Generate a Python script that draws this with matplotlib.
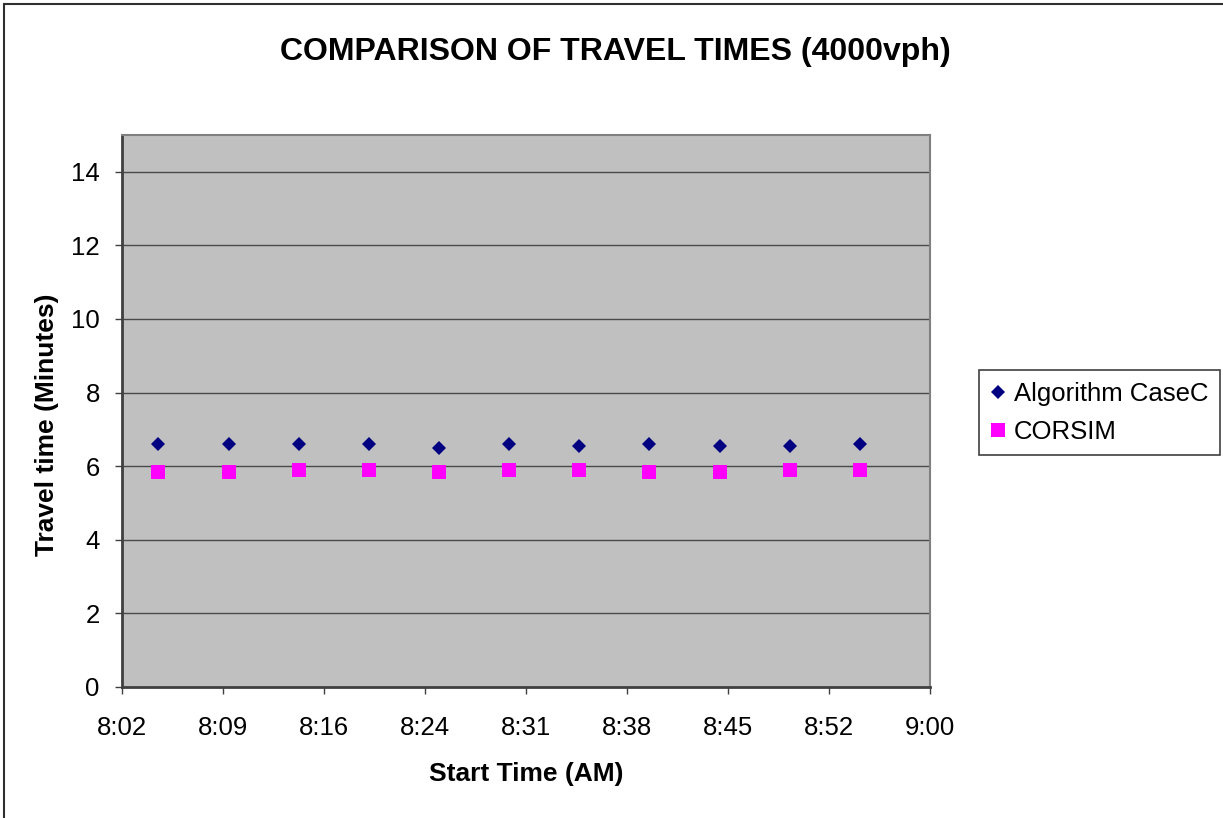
import matplotlib
matplotlib.use("Agg")
import matplotlib.pyplot as plt
from matplotlib.patches import Rectangle

plt.rcParams['font.family'] = ['Liberation Sans', 'DejaVu Sans']

# start times and travel times (minutes)
start_times = ["8:05", "8:10", "8:15", "8:20", "8:25", "8:30",
               "8:35", "8:40", "8:45", "8:50", "8:55"]
algorithm_casec = [6.6, 6.6, 6.6, 6.6, 6.5, 6.6, 6.55, 6.6, 6.55, 6.55, 6.6]
corsim = [5.83, 5.83, 5.9, 5.9, 5.83, 5.9, 5.9, 5.83, 5.83, 5.9, 5.9]

# Excel axis: 8:02:24 to 9:00, major unit 7.2 min
x_ticks = [2.4, 9.6, 16.8, 24.0, 31.2, 38.4, 45.6, 52.8, 60.0]
x_ticklabels = ["8:02", "8:09", "8:16", "8:24", "8:31", "8:38", "8:45", "8:52", "9:00"]
y_ticks = [0, 2, 4, 6, 8, 10, 12, 14]


def to_minutes(s):
    h, m = s.split(":")
    return (int(h) - 8) * 60 + int(m)


x = [to_minutes(t) for t in start_times]

fig = plt.figure(figsize=(12.23, 8.18), dpi=100)
ax = fig.add_axes([122 / 1223, 1 - 687 / 818, (930 - 122) / 1223, (687 - 135) / 818])
ax.set_facecolor("#C0C0C0")

for yv in y_ticks[1:]:
    ax.axhline(yv, color="#4a4a4a", lw=1.0, zorder=1)

ax.plot(x, algorithm_casec, linestyle="none", marker="D", ms=6.8, mew=0,
        color="#000080", label="Algorithm CaseC", zorder=3)
ax.plot(x, corsim, linestyle="none", marker="s", ms=10, mew=0,
        color="#FF00FF", label="CORSIM", zorder=3)

ax.set_xlim(2.4, 60)
ax.set_ylim(0, 15)
ax.set_xticks(x_ticks)
ax.set_xticklabels(x_ticklabels)
ax.set_yticks(y_ticks)
ax.tick_params(direction="out", length=5, width=1, color="#404040",
               labelsize=18.5)
ax.tick_params(axis="x", pad=16)
ax.tick_params(axis="y", pad=11)

for side in ["left", "bottom"]:
    ax.spines[side].set_color("#404040")
    ax.spines[side].set_linewidth(2)
for side in ["top", "right"]:
    ax.spines[side].set_color("#808080")
    ax.spines[side].set_linewidth(1.5)

ax.set_xlabel("Start Time (AM)", fontsize=19, fontweight="bold", labelpad=16)
ax.set_ylabel("Travel time (Minutes)", fontsize=19, fontweight="bold")
ax.yaxis.set_label_coords(-0.078, 0.475)
fig.text(615 / 1223, 1 - 52 / 818, "COMPARISON OF TRAVEL TIMES (4000vph)",
         fontsize=23, fontweight="bold", ha="center", va="center")

leg = ax.legend(loc="upper left", bbox_to_anchor=(979 / 1223, 1 - 370 / 818),
                bbox_transform=fig.transFigure, fontsize=18.5, frameon=True,
                fancybox=False, edgecolor="#404040", framealpha=1,
                handlelength=0.6, handletextpad=0.3, borderpad=0.45,
                labelspacing=0.55, markerscale=1.0, borderaxespad=0)
leg.get_frame().set_linewidth(1.2)

# outer chart border (only left and top visible in the reference)
fig.patches.append(Rectangle((4 / 1223, -0.1), 1.2, 1 - 4 / 818 + 0.1,
                             transform=fig.transFigure, fill=False,
                             edgecolor="#303030", lw=1.5))

fig.savefig("out.png", dpi=100)
